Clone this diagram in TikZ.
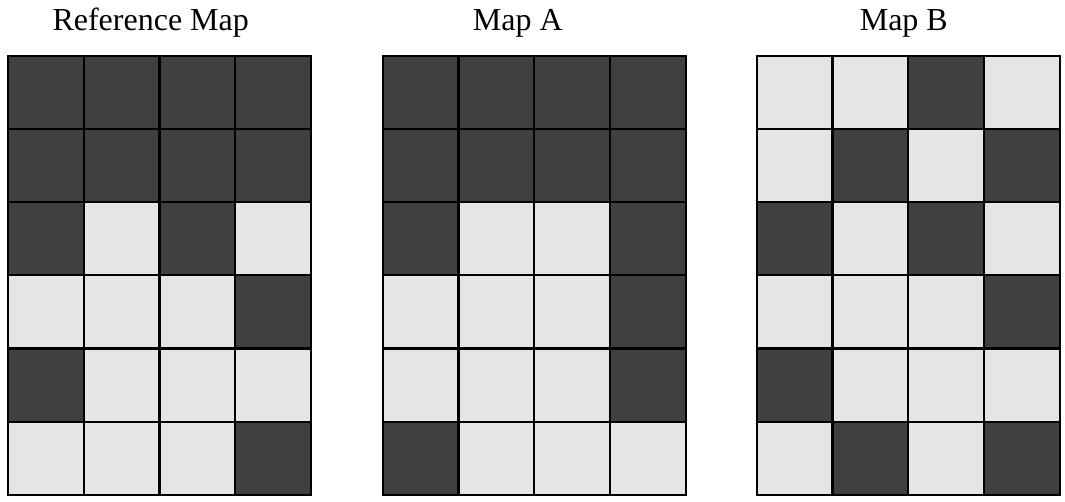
\documentclass[tikz,border=0pt]{standalone}
\usepackage{fontspec}
\setmainfont{Liberation Serif}
\definecolor{cdark}{HTML}{404040}
\definecolor{clight}{HTML}{E5E5E5}
% one 4x6 map: left edge, then the rows (1 = dark cell)
\newcommand\mapgrid[2]{%
  \foreach \row [count=\j from 0] in {#2} {
    \foreach \v [count=\i from 0] in \row {
      \draw[cell\v] (#1+\i*75.75,55.7+\j*73.2) rectangle ++(75.75,73.2);
    }
  }}

\begin{document}
\begin{tikzpicture}[x=1pt,y=-1pt,
    cell0/.style={fill=clight,draw=black,line width=2.2pt},
    cell1/.style={fill=cdark,draw=black,line width=2.2pt},
    ttl/.style={font=\fontsize{32}{37}\selectfont,anchor=base,inner sep=0pt}]
  \useasboundingbox (0,0) rectangle (1065,501);
  \node[ttl] (tref) at (150.7,30) {Reference Map};
  \node[ttl] (ta) at (517.8,30) {Map A};
  \node[ttl] (tb) at (903.8,30) {Map B};
  \mapgrid{8}{{1,1,1,1},{1,1,1,1},{1,0,1,0},{0,0,0,1},{1,0,0,0},{0,0,0,1}}
  \mapgrid{382.7}{{1,1,1,1},{1,1,1,1},{1,0,0,1},{0,0,0,1},{0,0,0,1},{1,0,0,0}}
  \mapgrid{756.7}{{0,0,1,0},{0,1,0,1},{1,0,1,0},{0,0,0,1},{1,0,0,0},{0,1,0,1}}
\end{tikzpicture}
\end{document}
